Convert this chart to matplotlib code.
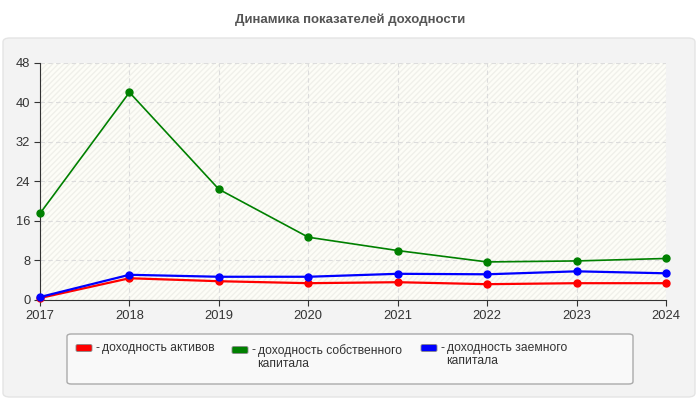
import matplotlib.pyplot as plt
import matplotlib.patches as patches

plt.rcParams['font.family'] = ['Liberation Sans', 'DejaVu Sans']

years = [2017, 2018, 2019, 2020, 2021, 2022, 2023, 2024]
roa = [0.4, 4.4, 3.8, 3.4, 3.6, 3.2, 3.4, 3.4]        # доходность активов
roe = [17.5, 42.0, 22.4, 12.7, 10.0, 7.7, 7.9, 8.4]   # доходность собственного капитала
rod = [0.6, 5.1, 4.7, 4.7, 5.3, 5.2, 5.8, 5.4]        # доходность заемного капитала

labels = ['доходность активов', 'доходность собственного\nкапитала',
          'доходность заемного\nкапитала']
colors = ['#ff0000', '#008000', '#0000ff']
yticks = [0, 8, 16, 24, 32, 40, 48]

fig = plt.figure(figsize=(7, 4), dpi=100)
fig.patch.set_facecolor('white')

# outer panel
W, H = 700, 400
panel = patches.FancyBboxPatch((3 / W, 3 / H), 692 / W, 359 / H,
                               boxstyle='round,pad=0,rounding_size=0.01',
                               transform=fig.transFigure, fc='#f3f3f3',
                               ec='#e4e4e4', lw=1, zorder=-5)
fig.patches.append(panel)

fig.text(0.5, 1 - 20 / H, 'Динамика показателей доходности', ha='center',
         va='center', fontsize=9.5, fontweight='bold', color='#555555')

ax = fig.add_axes([40 / W, 1 - 300 / H, 626 / W, 237.3 / H])
ax.set_facecolor('#fdfdf7')
ax.add_patch(patches.Rectangle((0, 0), 1, 1, transform=ax.transAxes,
                               fill=False, hatch='//////', ec='#f0f0ea',
                               lw=0, zorder=0))

series = [roa, roe, rod]
widths = [1.6, 1.2, 1.6]
for vals, c, lw in zip(series, colors, widths):
    ax.plot(years, vals, color=c, lw=lw, marker='o', ms=5, zorder=3,
            clip_on=False)

ax.set_xlim(2017, 2024)
ax.set_ylim(0, 48)
ax.set_xticks(years)
ax.set_yticks(yticks)
ax.grid(True, ls=(0, (4, 3)), color='#dcdcdc', lw=0.8)
ax.set_axisbelow(True)
for s in ['top', 'right']:
    ax.spines[s].set_visible(False)
for s in ['left', 'bottom']:
    ax.spines[s].set_color('#333333')
ax.tick_params(colors='#333333', labelsize=9.3, length=4, width=0.8)
ax.tick_params(axis='x', pad=3)
ax.tick_params(axis='y', pad=3)

# legend box
leg = patches.FancyBboxPatch((67 / W, 1 - 384 / H), 566 / W, 50 / H,
                             boxstyle='round,pad=0,rounding_size=0.006',
                             transform=fig.transFigure, fc='#f9f9f9',
                             ec='#aaaaaa', lw=1, zorder=-4)
fig.patches.append(leg)
xs = [76, 232, 421]
ys = [348, 350, 348]
for x, y, c, lab in zip(xs, ys, colors, labels):
    sw = patches.FancyBboxPatch((x / W, 1 - (y + 3.5) / H), 16 / W, 7 / H,
                                boxstyle='round,pad=0,rounding_size=0.003',
                                transform=fig.transFigure, fc=c,
                                ec='#888888', lw=0.6)
    fig.patches.append(sw)
    fig.text((x + 19.5) / W, 1 - y / H, '-', ha='left', va='center',
             fontsize=8.7, color='#333333')
    fig.text((x + 25.5) / W, 1 - (y - 6) / H, lab, ha='left', va='top',
             fontsize=8.7, color='#333333', linespacing=1.1)

fig.savefig('out.png', dpi=100)
plt.close(fig)
